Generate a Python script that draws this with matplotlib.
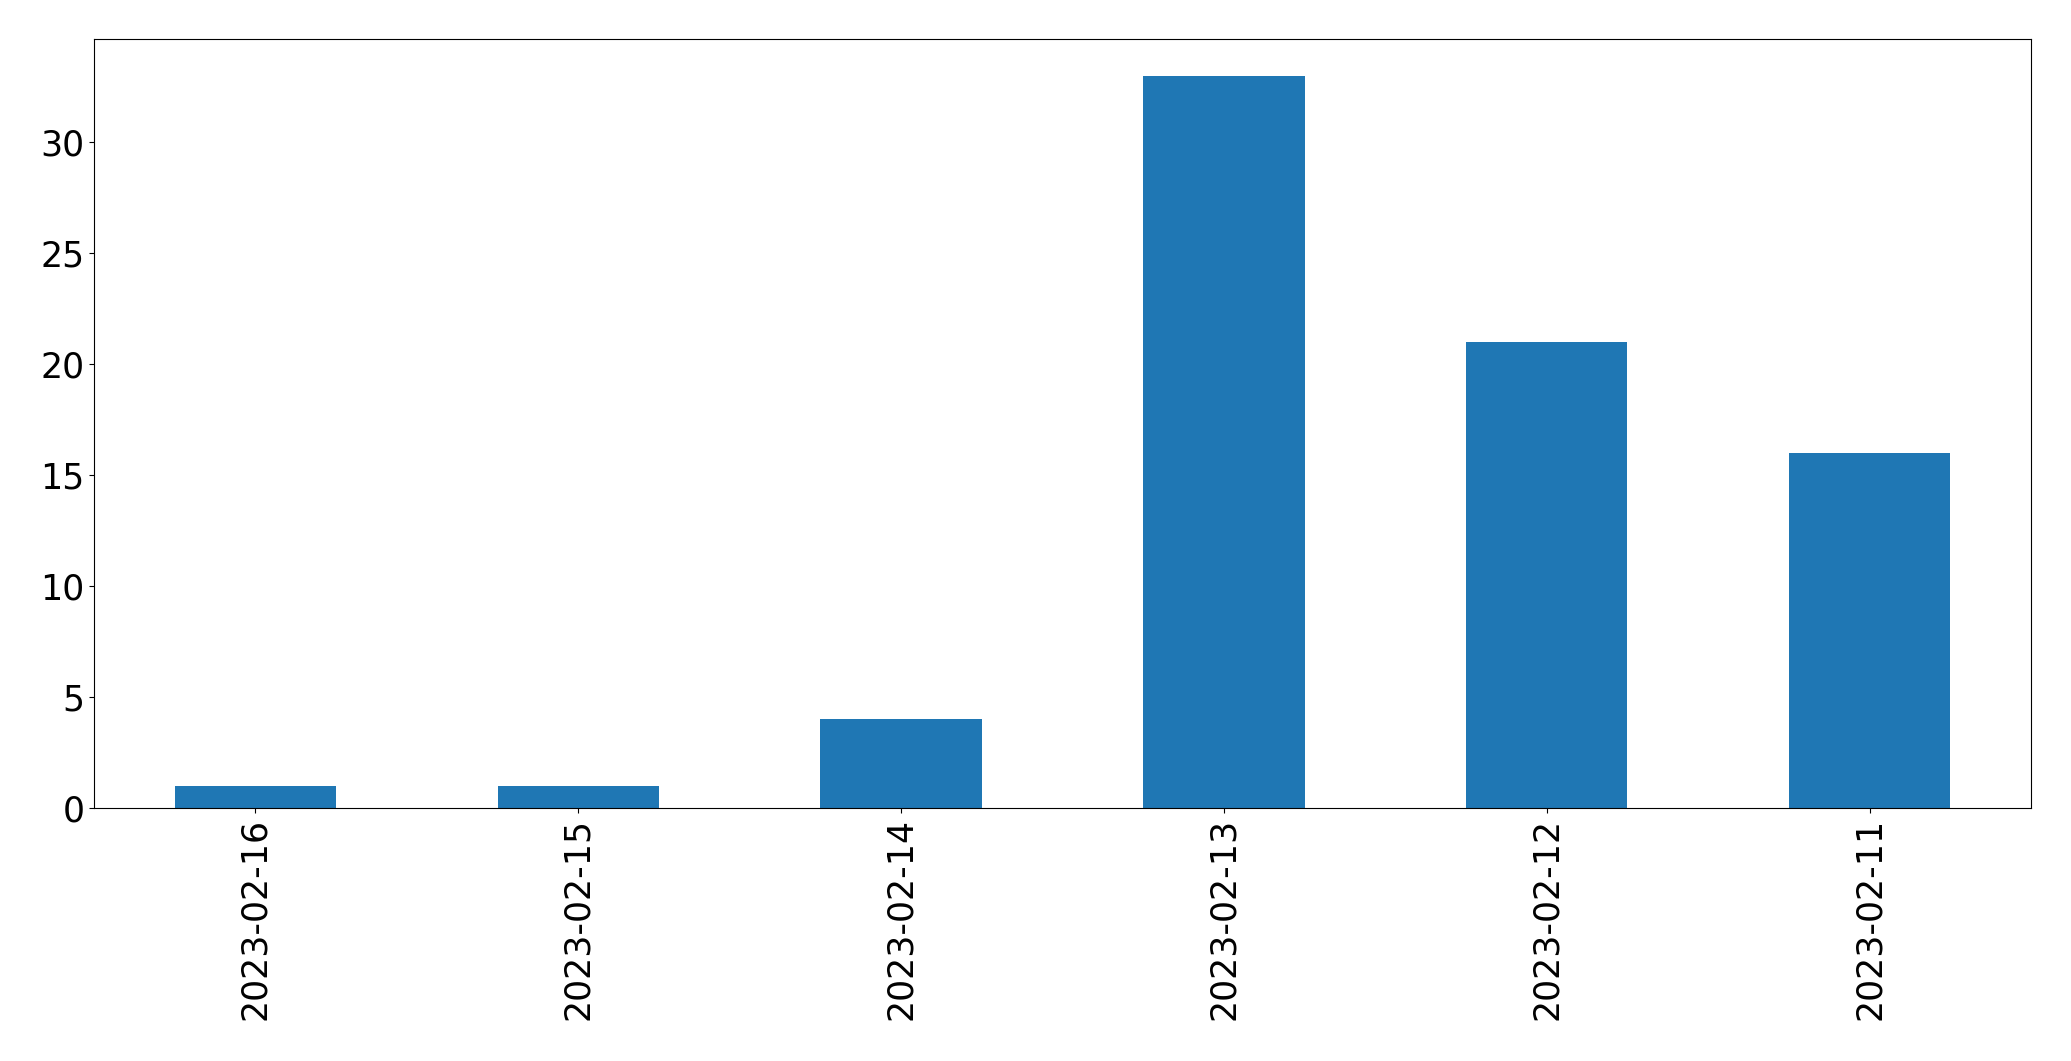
import matplotlib
matplotlib.use("Agg")
import matplotlib.pyplot as plt
import pandas as pd

# Data
dates = ['2023-02-16', '2023-02-15', '2023-02-14', '2023-02-13', '2023-02-12', '2023-02-11']
counts = [1, 1, 4, 33, 21, 16]

s = pd.Series(counts, index=dates)

fig = plt.figure(figsize=(20.71, 10.61), dpi=100)
ax = fig.add_axes([94 / 2071, 1 - 808 / 1061, (2031 - 94) / 2071, (808 - 39) / 1061])
s.plot(kind='bar', ax=ax, color='#1f77b4', width=0.5)
ax.tick_params(axis='both', labelsize=25)
ax.set_xticklabels(dates, rotation=90)

fig.savefig('out.png', dpi=100)
